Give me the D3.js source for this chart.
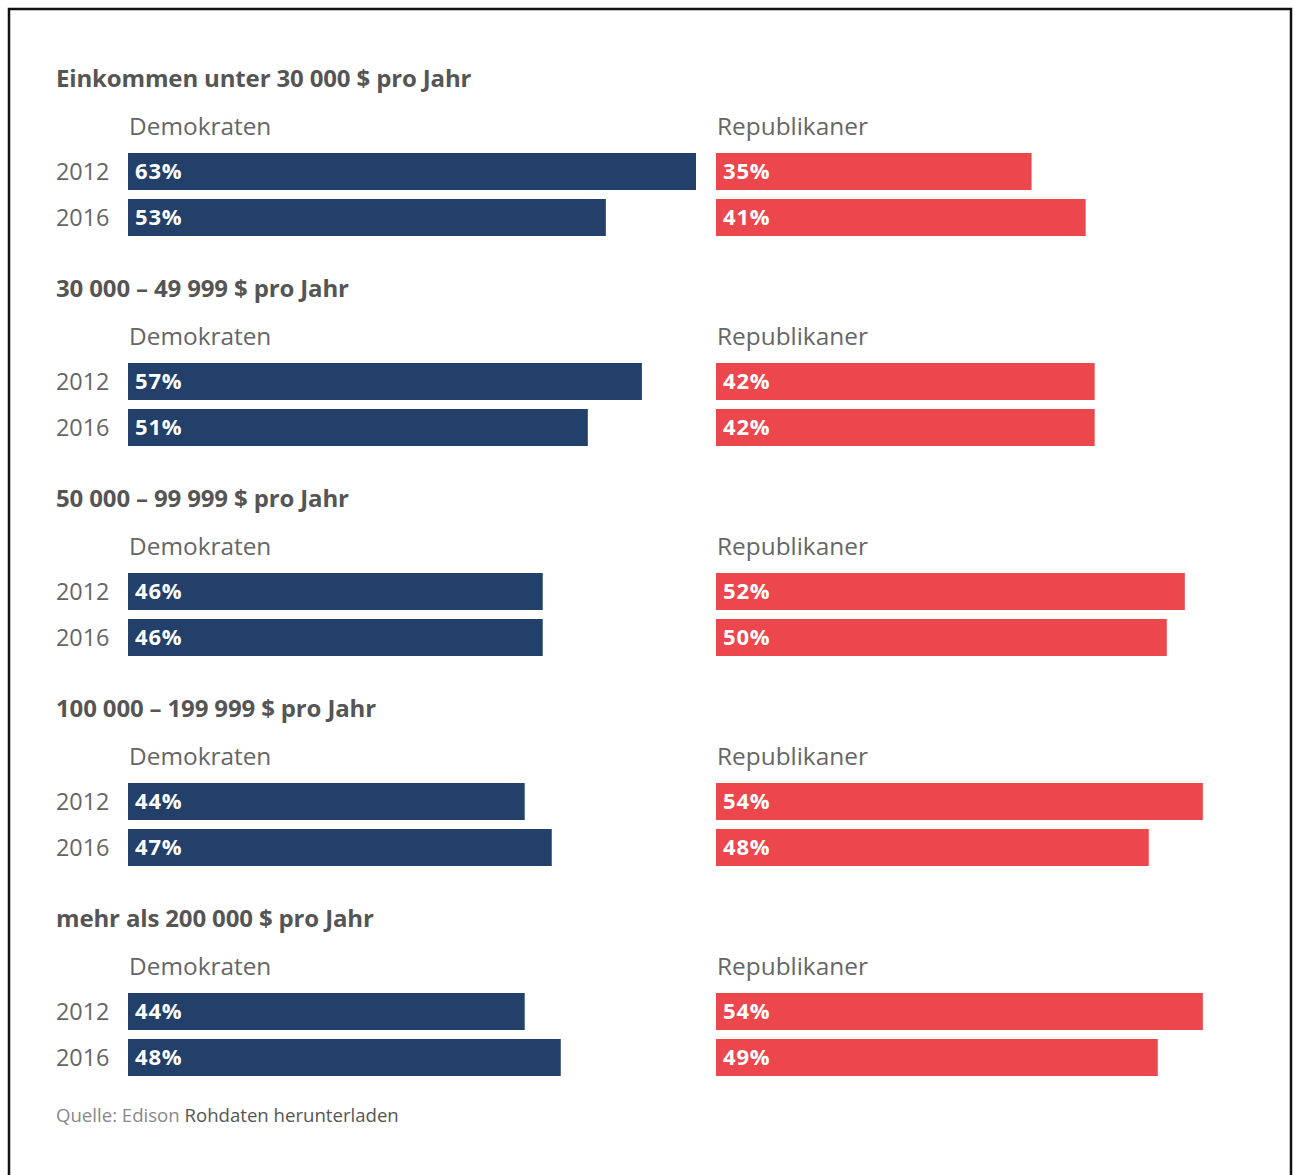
<!DOCTYPE html>
<html>
<head>
<meta charset="utf-8">
<script src="https://cdn.jsdelivr.net/npm/d3@7"></script>
<style>
  body { margin: 0; background: #fff; }
  svg { display: block; }
  text { font-family: "Open Sans", "Noto Sans", sans-serif; }
</style>
</head>
<body>
<svg id="viz" width="1295" height="1175"></svg>
<script>
// Data
const groups = [
  'Einkommen unter 30 000 $ pro Jahr',
  '30 000 – 49 999 $ pro Jahr',
  '50 000 – 99 999 $ pro Jahr',
  '100 000 – 199 999 $ pro Jahr',
  'mehr als 200 000 $ pro Jahr'
];
const years = ['2012', '2016'];
const parties = ['Demokraten', 'Republikaner'];
const demValues = [[63, 53], [57, 51], [46, 46], [44, 47], [44, 48]];
const repValues = [[35, 41], [42, 42], [52, 50], [54, 48], [54, 49]];

const colors = { Demokraten: '#22406a', Republikaner: '#ec474d' };

const svg = d3.select('#viz');

// frame
svg.append('rect')
   .attr('x', 9).attr('y', 9)
   .attr('width', 1282).attr('height', 1180)
   .attr('fill', 'none')
   .attr('stroke', '#111')
   .attr('stroke-width', 2.5);

const groupStep = 210;
const top0 = 60;

// value scale, one per party column
const x = d3.scaleLinear().domain([0, 63]).range([0, 568]);
const colStart = d3.scaleOrdinal().domain(parties).range([128, 716]);

// year bands inside a group
const yBand = d3.scaleBand().domain(years).range([93, 176]).paddingInner(9 / 46);

groups.forEach((title, gi) => {
  const g = svg.append('g')
               .attr('transform', `translate(0,${top0 + gi * groupStep})`);

  g.append('text')
   .attr('x', 56).attr('y', 27)
   .attr('fill', '#555')
   .attr('font-size', 24)
   .attr('font-weight', 'bold')
   .attr('letter-spacing', -0.15)
   .text(title);

  parties.forEach(p => {
    g.append('text')
     .attr('x', colStart(p) + 1).attr('y', 75)
     .attr('fill', '#666')
     .attr('font-size', 24.4)
     .text(p);
  });

  years.forEach(yr => {
    g.append('text')
     .attr('x', 56).attr('y', yBand(yr) + yBand.bandwidth() / 2)
     .attr('dy', '0.35em')
     .attr('fill', '#666')
     .attr('font-size', 23.4)
     .text(yr);
  });

  const rows = [];
  years.forEach((yr, yi) => {
    rows.push({ party: 'Demokraten', year: yr, v: demValues[gi][yi] });
    rows.push({ party: 'Republikaner', year: yr, v: repValues[gi][yi] });
  });

  g.selectAll('rect.bar')
   .data(rows)
   .join('rect')
     .attr('class', 'bar')
     .attr('x', d => colStart(d.party))
     .attr('y', d => yBand(d.year))
     .attr('width', d => x(d.v))
     .attr('height', yBand.bandwidth())
     .attr('fill', d => colors[d.party]);

  g.selectAll('text.val')
   .data(rows)
   .join('text')
     .attr('class', 'val')
     .attr('x', d => colStart(d.party) + 7)
     .attr('y', d => yBand(d.year) + yBand.bandwidth() / 2)
     .attr('dy', '0.36em')
     .attr('fill', '#fff')
     .attr('font-size', 22)
     .attr('font-weight', 'bold')
     .attr('letter-spacing', 0.8)
     .text(d => d.v + '%');
});

// source line
const src = svg.append('text')
   .attr('x', 56).attr('y', 1122)
   .attr('font-size', 18.6)
   .attr('fill', '#888');
src.append('tspan').text('Quelle: Edison ');
src.append('tspan').attr('fill', '#555').text('Rohdaten herunterladen');
</script>
</body>
</html>
